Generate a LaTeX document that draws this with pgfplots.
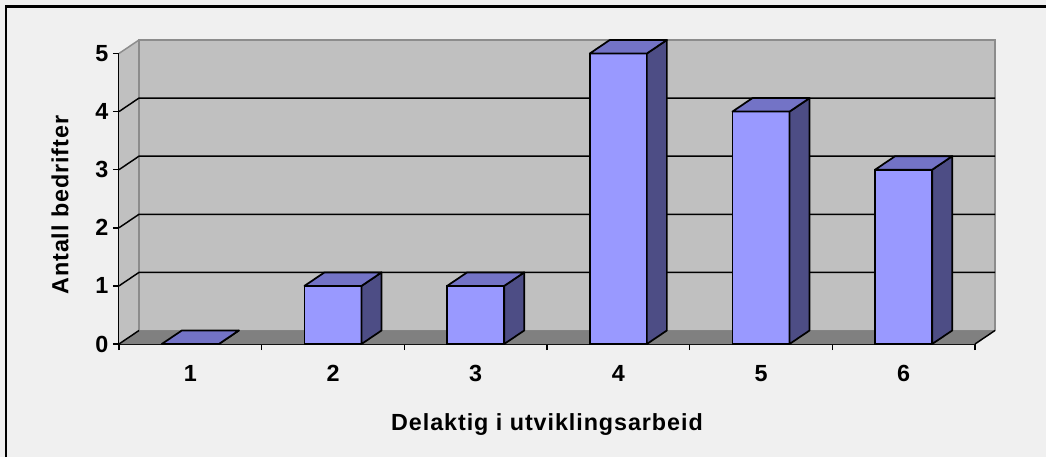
\documentclass[border=0pt]{standalone}
\usepackage{fontspec}
\setmainfont{Liberation Sans}[LetterSpace=4]
\usepackage{pgfplots}
\usepackage{pgfplotstable}
\pgfplotsset{compat=1.18}
\definecolor{bgc}{HTML}{F0F0F0}
\definecolor{wallc}{HTML}{C0C0C0}
\definecolor{walledge}{HTML}{8C8C8C}
\definecolor{floorc}{HTML}{808080}
\definecolor{barfront}{HTML}{9999FF}
\definecolor{bartop}{HTML}{7373C6}
\definecolor{barside}{HTML}{4D4D85}
\newcommand\lbl{\fontsize{17.5}{20}\selectfont\bfseries}
\pgfplotstableread{
cat val
1 0
2 1
3 1
4 5
5 4
6 3
}\datatable
\begin{document}
\begin{tikzpicture}
\path[use as bounding box] (0,0) rectangle (784.5pt,342.75pt);
\fill[bgc] (0,0) rectangle (784.5pt,342.75pt);
\draw[line width=1.8pt] (4.65pt,0) -- (4.65pt,337.9pt) -- (784.5pt,337.9pt);
\begin{axis}[
  at={(89.25pt,84.75pt)}, anchor=south west,
  scale only axis, width=642pt, height=217.9pt,
  xmin=0, xmax=6, ymin=0, ymax=5,
  clip=false,
  axis x line*=bottom, axis y line*=left,
  axis line style={black, line width=1.1pt, -},
  xtick={0,1,...,6},
  x tick label as interval,
  xticklabels={1,2,3,4,5,6},
  ytick={0,1,...,5},
  tick align=outside,
  major tick length=4.5pt,
  tick style={black, line width=1.1pt},
  ticklabel style={font=\lbl},
  /pgf/number format/assume math mode=true,
  xticklabel style={anchor=north, yshift=-8pt},
  yticklabel style={anchor=east},
  xlabel={Delaktig i utviklingsarbeid},
  xlabel style={at={([yshift=-60.75pt]axis description cs:0.5,0)}, anchor=center, font=\lbl},
  ylabel={Antall bedrifter},
  ylabel style={at={([xshift=-44.25pt]axis description cs:0,0.478)}, anchor=center, font=\lbl},
]
% side wall
\fill[wallc] (axis cs:0,0) -- (axis cs:0,5) -- (axis cs:0.1402,5.2324) -- (axis cs:0.1402,0.2324) -- cycle;
% back wall
\filldraw[fill=wallc, draw=walledge, line width=1.1pt] (axis cs:0.1402,0.2324) rectangle (axis cs:6.1402,5.2324);
\draw[walledge, line width=1.1pt] (axis cs:0,5) -- (axis cs:0.1402,5.2324);
% floor
\fill[floorc] (axis cs:0,0) -- (axis cs:6,0) -- (axis cs:6.1402,0.2324) -- (axis cs:0.1402,0.2324) -- cycle;
\draw[black, line width=1.1pt] (axis cs:0,0) -- (axis cs:0.1402,0.2324);
\draw[black, line width=1.1pt] (axis cs:6,0) -- (axis cs:6.1402,0.2324);
% gridlines
\pgfplotsinvokeforeach{1,...,4}{
  \draw[black, line width=1.1pt] (axis cs:0,#1) -- ([shift={(15pt,10.125pt)}]axis cs:0,#1) -- ([shift={(15pt,10.125pt)}]axis cs:6,#1);
}
% bars: front faces
\addplot[ybar, bar width=0.4, bar shift=0, fill=barfront, draw=black, line width=1.3pt]
  table[x expr=\thisrow{cat}-0.5, y=val] {\datatable};
% bars: side and top faces
\pgfplotstablegetrowsof{\datatable}
\pgfmathtruncatemacro\lastrow{\pgfplotsretval-1}
\pgfplotsforeachungrouped \i in {0,...,\lastrow}{
  \pgfplotstablegetelem{\i}{cat}\of\datatable \let\c\pgfplotsretval
  \pgfplotstablegetelem{\i}{val}\of\datatable \let\v\pgfplotsretval
  \pgfmathsetmacro\xl{\c-0.7}
  \pgfmathsetmacro\xr{\c-0.3}
  \pgfmathsetmacro\xlb{\c-0.7+0.1402}
  \pgfmathsetmacro\xrb{\c-0.3+0.1402}
  \pgfmathsetmacro\vb{\v+0.2324}
  \edef\cmd{\noexpand\addplot[fill=barside, draw=black, line width=1.3pt, line join=round] coordinates {(\xr,0) (\xr,\v) (\xrb,\vb) (\xrb,0.2324)} -- cycle;}\cmd
  \edef\cmd{\noexpand\addplot[fill=bartop, draw=black, line width=1.3pt, line join=round] coordinates {(\xl,\v) (\xr,\v) (\xrb,\vb) (\xlb,\vb)} -- cycle;}\cmd
}
\end{axis}
\end{tikzpicture}
\end{document}
